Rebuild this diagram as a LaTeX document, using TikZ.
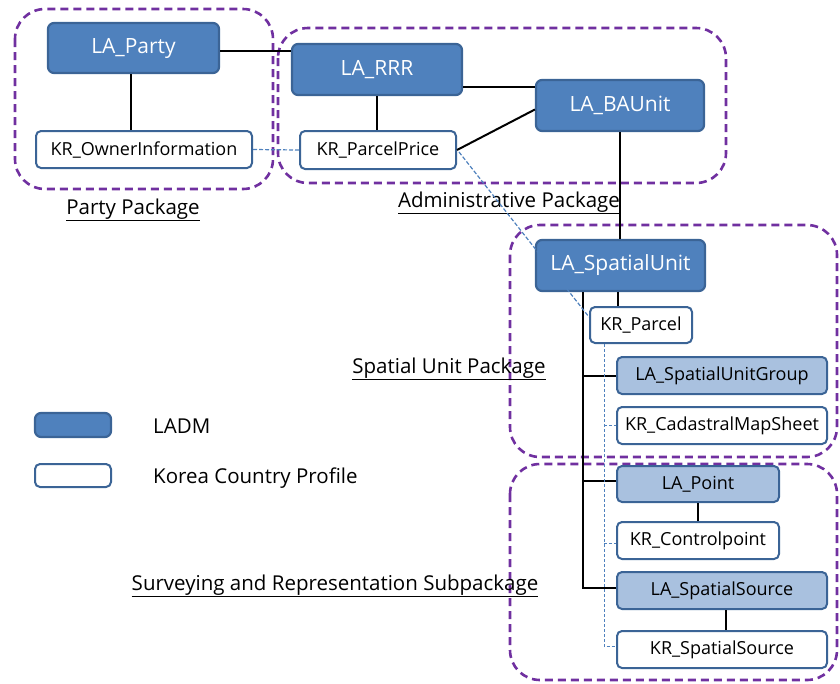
\documentclass[tikz,border=0pt]{standalone}
\usepackage{fontspec}
\setmainfont{Open Sans}
\usetikzlibrary{calc}
\definecolor{ladmc}{HTML}{4F81BD}
\definecolor{bordc}{HTML}{3B6496}
\definecolor{lightc}{HTML}{A9C1DF}
\definecolor{pkgc}{HTML}{7030A0}
\definecolor{dashc}{HTML}{4F81BD}
\begin{document}
\begin{tikzpicture}[x=1pt,y=-1pt,
  ladm/.style={draw=bordc, fill=ladmc, line width=2.2pt, rounded corners=6pt, text=white,
    font=\fontsize{21}{24}\selectfont, inner sep=0pt},
  krbox/.style={draw=bordc, fill=white, line width=2pt, rounded corners=5pt, text=black,
    font=\fontsize{18}{20}\selectfont, inner sep=0pt},
  litebox/.style={draw=bordc, fill=lightc, line width=2pt, rounded corners=5pt, text=black,
    font=\fontsize{18}{20}\selectfont, inner sep=0pt},
  pkg/.style={draw=pkgc, line width=2.6pt, dash pattern=on 8pt off 5pt, rounded corners=30pt},
  pkglabel/.style={font=\fontsize{20.5}{24}\selectfont, inner sep=0pt},
  assoc/.style={draw=black, line width=2pt},
  link/.style={draw=dashc, line width=1.2pt, dash pattern=on 4pt off 2pt},
  thinlink/.style={draw=dashc, line width=0.9pt, dash pattern=on 3pt off 2pt},
  legtext/.style={font=\fontsize{20.5}{24}\selectfont, anchor=west, inner sep=0pt}
]
\useasboundingbox (0,0) rectangle (840,683);

% packages
\draw[pkg] (15,9) rectangle (273,189);
\draw[pkg] (278,28) rectangle (726,183);
\draw[pkg] (510,225) rectangle (837,457);
\draw[pkg] (510,464) rectangle (837,680);

% package labels
\node[pkglabel] (lparty) at (133,210) {\underline{Party Package}};
\node[pkglabel] (ladmin) at (509,203) {\underline{Administrative Package}};
\node[pkglabel] (lspatial) at (449,369) {\underline{Spatial Unit Package}};
\node[pkglabel] (lsurv) at (335,586) {\underline{Surveying and Representation Subpackage}};

% classes
\node[ladm, minimum width=171pt, minimum height=50pt] (party) at (133.5,48) {LA\_Party};
\node[krbox, minimum width=216pt, minimum height=37pt] (owner) at (144,149.5) {KR\_OwnerInformation};
\node[ladm, minimum width=170pt, minimum height=51pt] (rrr) at (377,69.5) {LA\_RRR};
\node[krbox, minimum width=156pt, minimum height=38pt] (price) at (378,150) {KR\_ParcelPrice};
\node[ladm, minimum width=168pt, minimum height=51pt] (baunit) at (620,105.5) {LA\_BAUnit};
\node[ladm, minimum width=169pt, minimum height=51pt] (su) at (620.5,265.5) {LA\_SpatialUnit};
\node[krbox, minimum width=102pt, minimum height=36pt] (parcel) at (641,325) {KR\_Parcel};
\node[litebox, minimum width=210pt, minimum height=37pt] (sug) at (722,375.5) {LA\_SpatialUnitGroup};
\node[krbox, minimum width=210pt, minimum height=37pt] (cms) at (722,425.5) {KR\_CadastralMapSheet};
\node[litebox, minimum width=162pt, minimum height=36pt] (point) at (698,484) {LA\_Point};
\node[krbox, minimum width=162pt, minimum height=37pt] (cp) at (698,540.5) {KR\_Controlpoint};
\node[litebox, minimum width=210pt, minimum height=37pt] (ss) at (722,590.5) {LA\_SpatialSource};
\node[krbox, minimum width=210pt, minimum height=37pt] (kss) at (722,649.5) {KR\_SpatialSource};

% legend
\node[ladm, minimum width=76pt, minimum height=24pt] (legladm) at (73,425) {};
\node[krbox, minimum width=76pt, minimum height=23pt] (legkr) at (73,475.5) {};
\node[legtext] (legladmt) at (153,426) {LADM};
\node[legtext] (legkrt) at (153,478) {Korea Country Profile};

% associations
\draw[assoc] ($(party.east)+(0,3)$) -- ($(party.east -| rrr.west)+(0,3)$);
\draw[assoc] ($(party.south)+(-3,0)$) -- ($(party.south |- owner.north)+(-3,0)$);
\draw[assoc] (rrr.south) -- (rrr.south |- price.north);
\draw[assoc] ($(rrr.east)+(0,17)$) -- ($(rrr.east -| baunit.west)+(0,17)$);
\draw[assoc] (price.east) -- ($(baunit.west)+(0,4)$);
\draw[assoc] (baunit.south) -- (baunit.south |- su.north);

\coordinate (sutap) at ($(su.south)+(-2.5,0)$);
\draw[assoc, line width=2.6pt] (sutap) -- (sutap |- parcel.north);

\coordinate (trunk) at ($(su.south)+(-37.5,0)$);
\draw[assoc] (trunk) -- ($(trunk |- ss.west)+(0,-2.5)$) -- ($(ss.west)+(0,-2.5)$);
\draw[assoc] (trunk |- sug.west) -- (sug.west);
\draw[assoc] ($(trunk |- point.west)+(0,-3)$) -- ($(point.west)+(0,-3)$);
\draw[assoc] (point.south) -- (cp.north);
\draw[assoc] ($(ss.south)+(4,0)$) -- ($(kss.north)+(4,0)$);

% profile links
\draw[link] (owner.east) -- (price.west);
\draw[link] ($(price.east)+(2,2)$) -- ($(parcel.west)+(0,-8)$);
\coordinate (dtop) at ($(parcel.south)+(-37,0)$);
\draw[thinlink] (dtop) -- ($(dtop |- kss.west)+(0,-3)$) -- ($(kss.west)+(0,-3)$);
\draw[thinlink] (dtop |- cms.west) -- (cms.west);
\draw[thinlink] ($(dtop |- cp.west)+(0,3)$) -- ($(cp.west)+(0,3)$);
\end{tikzpicture}
\end{document}
